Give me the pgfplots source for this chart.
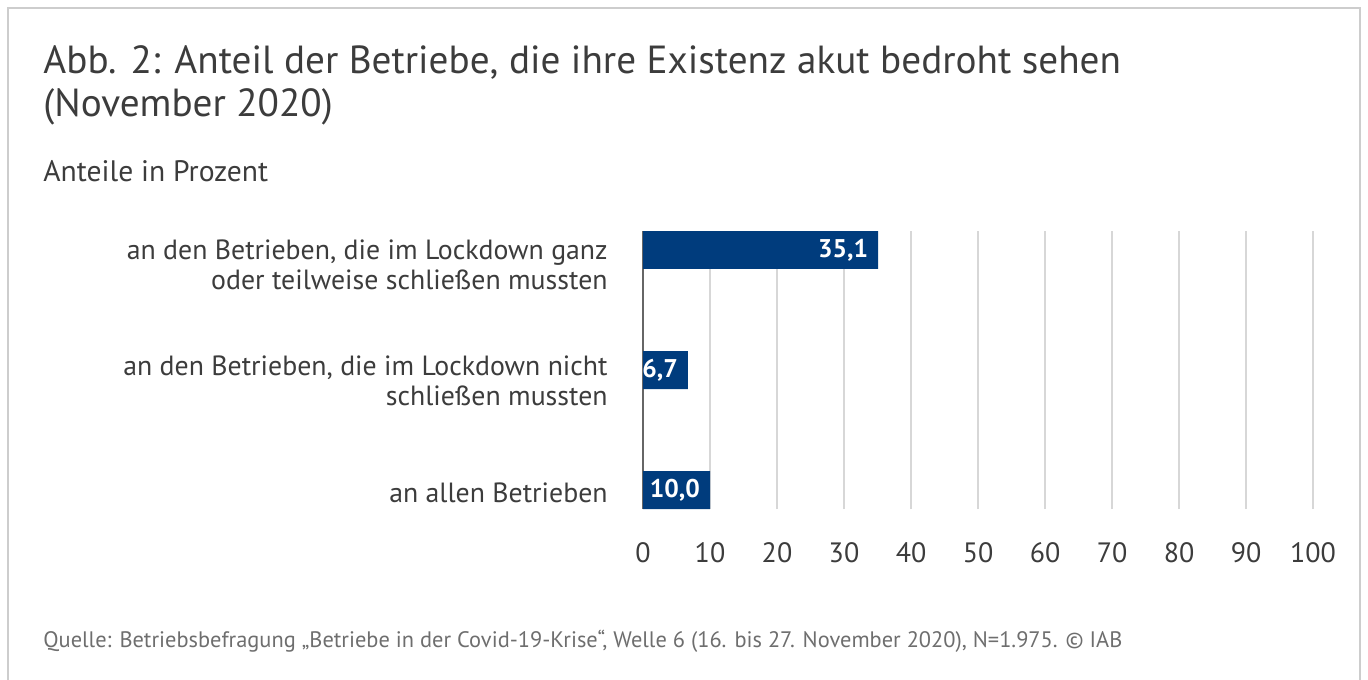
\documentclass[border=0pt]{standalone}
\usepackage{fontspec}
\setmainfont{PT Sans}
\usepackage{pgfplots}
\pgfplotsset{compat=1.18}
\definecolor{iabblue}{RGB}{0,60,125}
\definecolor{txt}{RGB}{60,60,60}
\definecolor{srctxt}{RGB}{110,110,110}
\definecolor{gridc}{RGB}{215,215,215}
\definecolor{framec}{RGB}{205,205,205}
\begin{document}
\begin{tikzpicture}
\useasboundingbox (0,0) rectangle (684pt,-339.5pt);
\draw[framec, line width=1pt] (4pt,-4pt) rectangle (680pt,-360pt);
\node[anchor=base west, inner sep=0pt, font=\fontsize{19.6}{24}\selectfont, text=txt] at (21.5pt,-37pt) {Abb. 2: Anteil der Betriebe, die ihre Existenz akut bedroht sehen};
\node[anchor=base west, inner sep=0pt, font=\fontsize{19.6}{24}\selectfont, text=txt] at (21.5pt,-58.5pt) {(November 2020)};
\node[anchor=base west, inner sep=0pt, font=\fontsize{14.8}{18}\selectfont, text=txt] at (21.5pt,-91pt) {Anteile in Prozent};
\node[anchor=base west, inner sep=0pt, font=\fontsize{11.2}{13}\selectfont, text=srctxt] at (21.5pt,-323.5pt) {Quelle: Betriebsbefragung „Betriebe in der Covid-19-Krise“, Welle 6 (16. bis 27. November 2020), N=1.975. © IAB};
\begin{axis}[
  at={(321.5pt,-254.5pt)}, anchor=south west,
  scale only axis, width=335pt, height=139pt,
  xbar, bar width=19pt,
  xmin=0, xmax=100, ymin=-0.158, ymax=2.158,
  ytick={-0.025,0.913,1.877},
  yticklabels={an allen Betrieben, {an den Betrieben, die im Lockdown nicht\\schließen mussten}, {an den Betrieben, die im Lockdown ganz\\oder teilweise schließen mussten}},
  yticklabel style={align=right, inner sep=0pt, xshift=-17.5pt, font=\fontsize{13.9}{15}\selectfont, text=txt},
  xtick={0,10,...,100},
  xticklabel style={yshift=-13pt, font=\fontsize{14}{16.5}\selectfont, text=txt},
  /pgf/number format/assume math mode=true,
  xmajorgrids, grid style={gridc, line width=1pt},
  extra x ticks={0}, extra x tick labels={},
  extra x tick style={grid style={black!60, line width=1pt}},
  axis line style={draw=none},
  major tick length=0pt,
  nodes near coords={\pgfmathprintnumber[fixed,zerofill,precision=1,use comma,assume math mode=true]{\pgfplotspointmeta}},
  nodes near coords style={anchor=east, text=white, font=\fontsize{12.8}{15}\selectfont\bfseries, xshift=-1.5pt},
]
\addplot[fill=iabblue, draw=none] coordinates {(10.0,0) (6.7,1) (35.1,2)};
\end{axis}
\end{tikzpicture}
\end{document}
